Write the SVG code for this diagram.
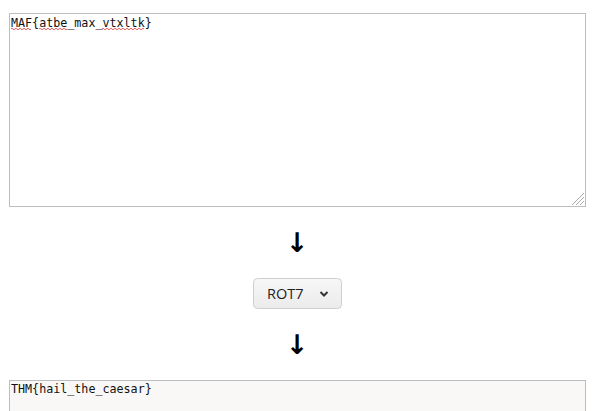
<svg xmlns="http://www.w3.org/2000/svg" width="598" height="411" viewBox="0 0 598 411">
<style>
.mono{font-family:"DejaVu Sans Mono","Liberation Mono",monospace;font-size:11.7px;fill:#111}
.box{stroke:#bdbdbd;stroke-width:1}
.sq{fill:none;stroke:#d33;stroke-width:0.8}
.arrow{font-family:"DejaVu Sans",sans-serif;font-size:27px;font-weight:bold;fill:#000;text-anchor:middle}
</style>
<defs>
<linearGradient id="btn" x1="0" y1="0" x2="0" y2="1">
<stop offset="0" stop-color="#f7f7f7"/>
<stop offset="1" stop-color="#ebebeb"/>
</linearGradient>
</defs>
<rect width="598" height="411" fill="#fff"/>
<g id="input">
<rect class="box" x="9.5" y="13.5" width="576" height="193" fill="#fff"/>
<text class="mono" x="11" y="26.5">MAF{atbe_max_vtxltk}</text>
<path class="sq" d="M11 29 q1 -1.5 2 0 t2 0 t2 0 t2 0 t2 0 t2 0 t2 0 t2 0 t2 0 t2 0"/>
<path class="sq" d="M39 29 q1 -1.5 2 0 t2 0 t2 0 t2 0 t2 0 t2 0 t2 0 t2 0 t2 0 t2 0 t2 0 t2 0 t2 0 t2 0"/>
<path class="sq" d="M102 29 q1 -1.5 2 0 t2 0 t2 0 t2 0 t2 0 t2 0 t2 0 t2 0 t2 0 t2 0 t2 0 t2 0 t2 0 t2 0 t2 0 t2 0 t2 0 t2 0 t2 0 t2 0 t2 0"/>
<g stroke="#aaa" stroke-width="1">
<line x1="572" y1="205" x2="584" y2="193"/>
<line x1="576" y1="205" x2="584" y2="197"/>
<line x1="580" y1="205" x2="584" y2="201"/>
</g>
</g>
<g id="connectors">
<text class="arrow" x="297" y="252">↓</text>
<text class="arrow" x="297" y="354">↓</text>
</g>
<g id="cipher">
<rect x="253.5" y="278.5" width="88" height="30" rx="4" fill="url(#btn)" stroke="#cfcfcf"/>
<text x="267" y="299" font-family="'Open Sans','Noto Sans',sans-serif" font-size="14.5" fill="#222">ROT7</text>
<path d="M320.5 292 l3.5 3.5 l3.5 -3.5" fill="none" stroke="#333" stroke-width="2"/>
</g>
<g id="output">
<rect class="box" x="9.5" y="380.5" width="576" height="40" fill="#f9f8f6"/>
<text class="mono" x="11" y="393">THM{hail_the_caesar}</text>
</g>
</svg>
